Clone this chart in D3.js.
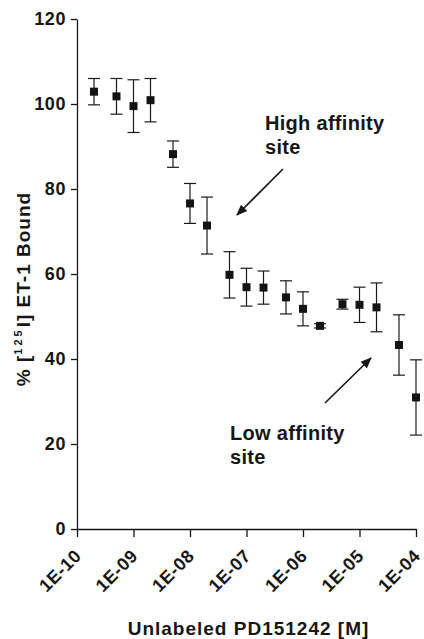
<!DOCTYPE html>
<html>
<head>
<meta charset="utf-8">
<script src="https://cdn.jsdelivr.net/npm/d3@7"></script>
<style>
    body { margin: 0; background: #fff; }
    text { font-family: "Liberation Sans", Arial, sans-serif; font-weight: bold; fill: #161616; }
    .domain, .tick line { stroke: #161616; stroke-width: 1.3; }
    .ytext { font-size: 18px; letter-spacing: 0.6px; }
    .xtext { font-size: 18px; letter-spacing: 0.6px; }
    .label { font-size: 19px; letter-spacing: 1px; }
    .note { font-size: 20px; letter-spacing: 0.3px; }
    .err { stroke: #1a1a1a; stroke-width: 1.2; }
</style>
</head>
<body>
<script>

// Concentration of unlabeled PD151242 (M)
const conc = [2e-10, 5e-10, 1e-9, 2e-9, 5e-9, 1e-8, 2e-8, 5e-8, 1e-7, 2e-7,
              5e-7, 1e-6, 2e-6, 5e-6, 1e-5, 2e-5, 5e-5, 1e-4];
// % [125I] ET-1 bound
const bound = [102.9, 101.8, 99.5, 100.9, 88.2, 76.6, 71.4, 59.8, 56.9, 56.8,
               54.5, 51.8, 47.8, 52.9, 52.75, 52.15, 43.3, 30.95];
// error (+/-)
const err = [3.1, 4.2, 6.2, 5.1, 3.1, 4.7, 6.7, 5.45, 4.45, 3.9,
             3.9, 4.0, 0.5, 1.15, 4.15, 5.75, 7.1, 8.85];

const xTicks = [1e-10, 1e-9, 1e-8, 1e-7, 1e-6, 1e-5, 1e-4];
const xTickLabels = ["1E-10", "1E-09", "1E-08", "1E-07", "1E-06", "1E-05", "1E-04"];
const yTicks = [0, 20, 40, 60, 80, 100, 120];

const notes = [
    {lines: ["High affinity", "site"], x: 265, y: 130, arrow: [[283, 169], [237, 215]]},
    {lines: ["Low affinity", "site"], x: 230, y: 440, arrow: [[325, 403], [371, 358]]}
];

const W = 424, H = 639;
const plot = {left: 77, right: 416, top: 19, bottom: 529};

const svg = d3.select("body").append("svg")
    .attr("width", W)
    .attr("height", H);

svg.append("rect").attr("width", W).attr("height", H).attr("fill", "#fff");

const x = d3.scaleLog().domain([1e-10, 1e-4]).range([plot.left, plot.right]);
const y = d3.scaleLinear().domain([0, 120]).range([plot.bottom, plot.top]);

// x axis
const xAxis = svg.append("g")
    .attr("id", "xaxis")
    .attr("transform", "translate(0," + plot.bottom + ")")
    .call(d3.axisBottom(x).tickValues(xTicks).tickSize(8).tickSizeOuter(0)
        .tickFormat((d, i) => xTickLabels[i]));

xAxis.selectAll(".tick text")
    .classed("xtext", true)
    .attr("text-anchor", "end")
    .attr("x", 5)
    .attr("y", 28)
    .attr("dy", 0)
    .attr("transform", "rotate(-45, 5, 28)");

// y axis
const yAxis = svg.append("g")
    .attr("id", "yaxis")
    .attr("transform", "translate(" + plot.left + ",0)")
    .call(d3.axisLeft(y).tickValues(yTicks).tickSize(6).tickSizeOuter(0));

yAxis.selectAll(".tick text")
    .classed("ytext", true)
    .attr("x", -11);

svg.selectAll(".domain").attr("fill", "none");

// axis labels
svg.append("text")
    .classed("label", true)
    .attr("x", (plot.left + 420) / 2)
    .attr("y", 635)
    .attr("text-anchor", "middle")
    .text("Unlabeled PD151242 [M]");

const ylab = svg.append("text")
    .classed("label", true)
    .attr("text-anchor", "middle")
    .attr("transform", "translate(30,289) rotate(-90)");
ylab.append("tspan").text("% [");
ylab.append("tspan").attr("font-size", 11).attr("dy", -8).attr("letter-spacing", 3).text("125");
ylab.append("tspan").attr("dy", 8).text("I] ET-1 Bound");

// error bars and points
const pts = svg.append("g").attr("id", "points")
    .selectAll("g")
    .data(conc.map((c, i) => ({c, v: bound[i], e: err[i]})))
    .join("g")
    .attr("transform", d => "translate(" + x(d.c) + ",0)");

pts.append("line").classed("err", true)
    .attr("y1", d => y(d.v + d.e)).attr("y2", d => y(d.v - d.e));
pts.append("line").classed("err", true)
    .attr("x1", -6).attr("x2", 6)
    .attr("y1", d => y(d.v + d.e)).attr("y2", d => y(d.v + d.e));
pts.append("line").classed("err", true)
    .attr("x1", -6).attr("x2", 6)
    .attr("y1", d => y(d.v - d.e)).attr("y2", d => y(d.v - d.e));
pts.append("rect")
    .attr("x", -4).attr("width", 8).attr("height", 8)
    .attr("y", d => y(d.v) - 4)
    .attr("fill", "#141414");

// annotations
svg.append("defs").append("marker")
    .attr("id", "head")
    .attr("viewBox", "0 0 10 10")
    .attr("refX", 9).attr("refY", 5)
    .attr("markerWidth", 7).attr("markerHeight", 7)
    .attr("orient", "auto")
    .append("path").attr("d", "M0,1L10,5L0,9Z").attr("fill", "#161616");

notes.forEach(n => {
    const t = svg.append("text").classed("note", true)
        .attr("x", n.x).attr("y", n.y);
    n.lines.forEach((l, i) => {
        t.append("tspan").attr("x", n.x).attr("dy", i ? 24 : 0).text(l);
    });
    svg.append("line")
        .attr("x1", n.arrow[0][0]).attr("y1", n.arrow[0][1])
        .attr("x2", n.arrow[1][0]).attr("y2", n.arrow[1][1])
        .attr("stroke", "#161616").attr("stroke-width", 1.6)
        .attr("marker-end", "url(#head)");
});

</script>
</body>
</html>
